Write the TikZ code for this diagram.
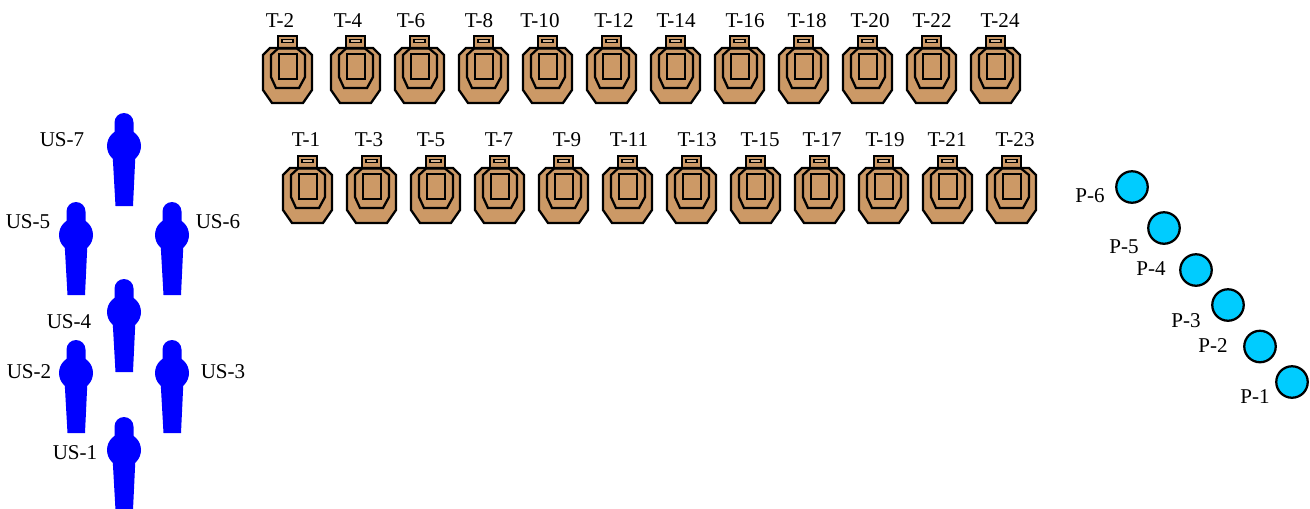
\documentclass[tikz,border=0pt]{standalone}
\usepackage{fontspec}
\setmainfont{Liberation Serif}
\definecolor{targettan}{HTML}{CC9966}
\definecolor{propcyan}{HTML}{00CCFF}
\tikzset{
	lbl/.style={inner sep=0pt, font=\fontsize{15.8pt}{18pt}\selectfont},
	outline/.style={draw=black, line width=1.7pt, line join=miter},
	prop/.style={circle, draw=black, line width=1.7pt, fill=propcyan, minimum size=23.6pt, inner sep=0pt},
	pics/target/.style={code={
		\draw[outline, fill=targettan] (-10,0)--(-10,-12)--(9,-12)--(9,0)--cycle;
		\draw[outline, line width=1.1pt, fill=white!30!targettan] (-6,-8.5) rectangle (5,-5.5);
		\draw[outline, fill=targettan] (-18,0)--(17,0)--(24,7)--(24,42)--(15,55)--(-16,55)--(-25,42)--(-25,7)--cycle;
		\draw[outline] (-10,0.5)--(9,0.5)--(17,7)--(17,29)--(11,40)--(-12,40)--(-17,29)--(-17,7)--cycle;
		\draw[outline] (-9,6) rectangle (9,31);
	}},
	pics/shooter/.style={code={
		\fill[blue] (-9.5,9.5) arc (180:360:9.5) -- (9.5,40) -- (-9.5,40) -- cycle;
		\fill[blue] (0,33) circle (17);
		\fill[blue] (-11.5,40) -- (11.5,40) -- (9,93) -- (-8.5,93) -- cycle;
	}}
}
\begin{document}
\begin{tikzpicture}[x=0.75pt, y=-0.75pt]
	\useasboundingbox (0,0) rectangle (1310,508);
	%Back row of targets
	\foreach \x/\lx/\t in {288/280/2,356/348/4,420/411/6,484/479/8,548/540/10,612/614/12,676/676/14,740/745/16,804/807/18,868/870/20,932/932/22,996/1000/24}{
		\pic at (\x,48) {target};
		\node[lbl] (t\t) at (\lx,21) {T-\t};
	}
	%Front row of targets
	\foreach \x/\lx/\t in {308/306/1,372/369/3,436/431/5,500/499/7,564/567/9,628/629/11,692/697/13,756/760/15,820/822/17,884/885/19,948/947/21,1012/1015/23}{
		\pic at (\x,168) {target};
		\node[lbl] (t\t) at (\lx,140) {T-\t};
	}
	%Shooters
	\foreach \x/\y/\lx/\ly/\s in {124/113/62/140/7,76/202/28/222/5,172/202/218/222/6,124/279/69/322/4,76/340/29/372/2,172/340/223/372/3,124/417/75/453/1}{
		\pic at (\x,\y) {shooter};
		\node[lbl] (us\s) at (\lx,\ly) {US-\s};
	}
	%Props
	\foreach \x/\y/\lx/\ly/\p in {1292/382/1255/397/1,1260/346.5/1213/346/2,1228/305/1186/321/3,1196/270/1151/269/4,1164/228/1124/247/5,1132/187/1090/196/6}{
		\node[prop] (c\p) at (\x,\y) {};
		\node[lbl] (p\p) at (\lx,\ly) {P-\p};
	}
\end{tikzpicture}
\end{document}
